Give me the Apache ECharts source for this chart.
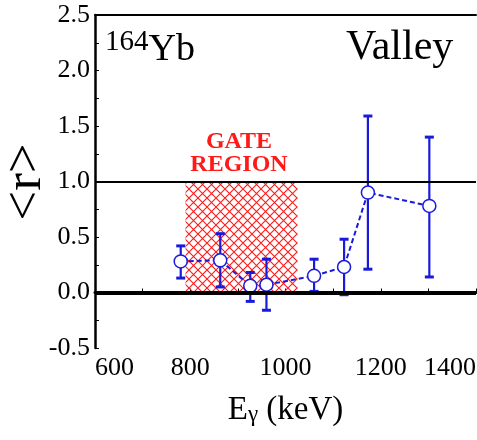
<!DOCTYPE html>
<html>
<head>
<meta charset="utf-8">
<script src="https://cdn.jsdelivr.net/npm/echarts@6/dist/echarts.min.js"></script>
<style>
  html, body { margin: 0; padding: 0; background: #fff; }
  #chart { width: 477px; height: 440px; }
</style>
</head>
<body>
<div id="chart"></div>
<script>
// Gamma-ray energies (keV) and mean ratio <r> with error limits
const energies = [780, 863, 926, 960, 1060, 1123, 1173, 1302];
const ratios   = [0.28, 0.29, 0.06, 0.07, 0.15, 0.23, 0.90, 0.78];
const errLow   = [0.13, 0.05, -0.08, -0.16, 0.01, -0.02, 0.21, 0.14];
const errHigh  = [0.42, 0.53, 0.18, 0.30, 0.30, 0.48, 1.59, 1.40];

// Energy window of the gate and the reference levels
const gateRange = [790, 1025];
const gateLevels = [0, 1.0];
const refLevels = [0, 1.0];

const FONT = '"Liberation Serif", "DejaVu Serif", serif';
const BLUE = '#1a1adb';

// Red cross-hatch tile for the gate region
function hatchTile() {
  const n = 9;
  const c = document.createElement('canvas');
  c.width = n; c.height = n;
  const g = c.getContext('2d');
  g.strokeStyle = '#ff1a1a';
  g.lineWidth = 1.1;
  g.beginPath();
  g.moveTo(0, 0); g.lineTo(n, n);
  g.moveTo(n, 0); g.lineTo(0, n);
  g.stroke();
  return c;
}

const points = energies.map((e, i) => [e, ratios[i]]);
const bars = energies.map((e, i) => [e, errLow[i], errHigh[i]]);

const chart = echarts.init(document.getElementById('chart'));
chart.setOption({
  animation: false,
  grid: { left: 95, right: 1, top: 15, bottom: 92, containLabel: false, outerBoundsMode: 'none' },
  xAxis: [{
    type: 'value', min: 600, max: 1400, interval: 200,
    name: '{e|E}{g|γ}{e| (keV)}', nameLocation: 'middle', nameGap: 46,
    nameTextStyle: {
      rich: {
        e: { fontFamily: FONT, fontSize: 33, color: '#000' },
        g: { fontFamily: FONT, fontSize: 23, color: '#000', padding: [9, 0, 0, 0] }
      }
    },
    axisLine: { lineStyle: { color: '#000', width: 3 } },
    axisTick: { inside: true, length: 4, lineStyle: { color: '#000', width: 1 } },
    minorTick: { show: true, splitNumber: 2, length: 4, lineStyle: { color: '#000', width: 1 } },
    axisLabel: {
      fontFamily: FONT, fontSize: 26, color: '#000', margin: 7,
      alignMinLabel: 'left', alignMaxLabel: 'right',
      formatter: v => String(v)
    },
    splitLine: { show: false }
  }, {
    type: 'value', min: 600, max: 1400, position: 'top',
    axisLine: { show: true, onZero: false, lineStyle: { color: '#000', width: 2 } },
    axisTick: { show: false }, axisLabel: { show: false }, splitLine: { show: false }
  }],
  yAxis: {
    type: 'value', min: -0.5, max: 2.5, interval: 0.5,
    axisLine: { show: true, lineStyle: { color: '#000', width: 2.5 } },
    axisTick: { inside: true, length: 4, lineStyle: { color: '#000', width: 1 } },
    minorTick: { show: true, splitNumber: 2, length: 4, lineStyle: { color: '#000', width: 1 } },
    axisLabel: {
      fontFamily: FONT, fontSize: 26, color: '#000', margin: 5,
      formatter: v => v.toFixed(1)
    },
    splitLine: { show: false }
  },
  series: [
    {
      // gate region hatch
      type: 'line', data: [], silent: true, z: 1,
      markArea: {
        silent: true,
        itemStyle: { color: { image: hatchTile(), repeat: 'repeat' }, opacity: 1 },
        data: [[{ xAxis: gateRange[0], yAxis: gateLevels[0] }, { xAxis: gateRange[1], yAxis: gateLevels[1] }]]
      }
    },
    {
      // reference levels at 0 and 1
      type: 'line', data: [], silent: true, z: 2,
      markLine: {
        silent: true, symbol: 'none', label: { show: false },
        data: [
          { yAxis: refLevels[0], lineStyle: { color: '#000', width: 4, type: 'solid' } },
          { yAxis: refLevels[1], lineStyle: { color: '#000', width: 2, type: 'solid' } }
        ]
      }
    },
    {
      // error bars with caps
      type: 'custom', z: 3,
      renderItem: (params, api) => {
        const x = api.value(0);
        const lo = api.coord([x, api.value(1)]);
        const hi = api.coord([x, api.value(2)]);
        const w = 4.5;
        const style = { stroke: BLUE, lineWidth: 2.2 };
        return {
          type: 'group',
          children: [
            { type: 'line', shape: { x1: lo[0], y1: lo[1], x2: hi[0], y2: hi[1] }, style },
            { type: 'line', shape: { x1: lo[0] - w, y1: lo[1], x2: lo[0] + w, y2: lo[1] }, style: { stroke: BLUE, lineWidth: 3 } },
            { type: 'line', shape: { x1: hi[0] - w, y1: hi[1], x2: hi[0] + w, y2: hi[1] }, style: { stroke: BLUE, lineWidth: 3 } }
          ]
        };
      },
      encode: { x: 0, y: [1, 2] },
      data: bars
    },
    {
      type: 'line', z: 4,
      data: points,
      symbol: 'circle', symbolSize: 13,
      lineStyle: { color: BLUE, width: 2, type: [5, 3] },
      itemStyle: { color: '#fff', borderColor: BLUE, borderWidth: 1.5 }
    }
  ],
  graphic: [
    {
      // y-axis title
      type: 'text', x: 26, y: 182, rotation: Math.PI / 2,
      style: {
        text: '<r>', fontFamily: FONT, fontSize: 53, fill: '#000',
        align: 'center', verticalAlign: 'middle'
      }
    },
    {
      type: 'text', left: 105, top: 28,
      style: {
        text: '{s|164}{m|Yb}',
        rich: {
          s: { fontFamily: FONT, fontSize: 29, fill: '#000', verticalAlign: 'top', padding: [0, 0, 15, 0] },
          m: { fontFamily: FONT, fontSize: 38, fill: '#000' }
        }
      }
    },
    {
      type: 'text', left: 346, top: 27,
      style: { text: 'Valley', fontFamily: FONT, fontSize: 42, fill: '#000' }
    },
    {
      type: 'text', x: 239, y: 130,
      style: {
        text: 'GATE\nREGION', fontFamily: FONT, fontSize: 24, fontWeight: 'bold',
        fill: '#ff1a1a', align: 'center', lineHeight: 23
      }
    }
  ]
});
</script>
</body>
</html>
